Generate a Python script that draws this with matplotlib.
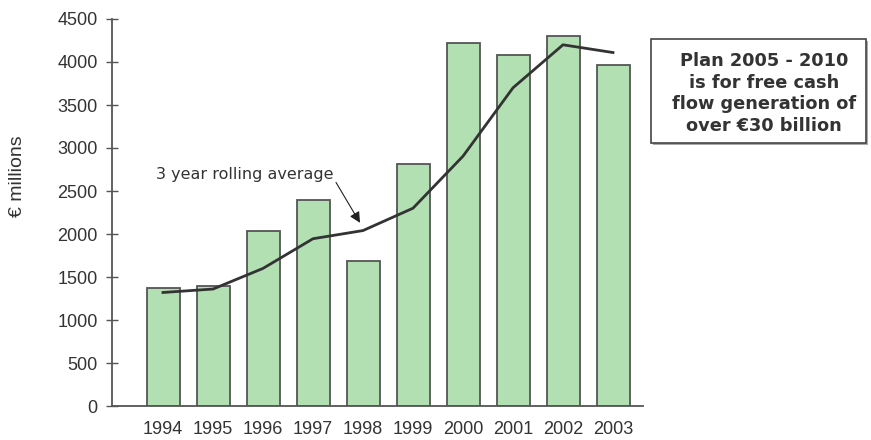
import numpy as np
import matplotlib
matplotlib.use("Agg")
import matplotlib.pyplot as plt
import matplotlib.patches as patches

years = ["1994", "1995", "1996", "1997", "1998", "1999", "2000", "2001", "2002", "2003"]
cash_flow = [1375, 1400, 2030, 2400, 1690, 2810, 4220, 4080, 4300, 3970]
rolling_avg = [1320, 1360, 1600, 1945, 2040, 2300, 2905, 3700, 4200, 4110]
y_ticks = [0, 500, 1000, 1500, 2000, 2500, 3000, 3500, 4000, 4500]

text_col = "#333333"
plt.rcParams["font.family"] = ["Liberation Sans", "DejaVu Sans"]

W, H = 871, 440
fig = plt.figure(figsize=(W / 100, H / 100), dpi=100)
ax = fig.add_axes([112 / W, 1 - 406 / H, (643 - 112) / W, (406 - 19) / H])

x = np.arange(len(years))
ax.bar(x, cash_flow, width=0.66, color="#b3e0b3", edgecolor="#555555", linewidth=1.3, zorder=2)
ax.plot(x, rolling_avg, color="#333333", linewidth=2, zorder=3)

ax.set_xlim(-1.02, 9.6)
ax.set_ylim(0, 4500)
ax.set_yticks(y_ticks)
ax.set_xticks(x)
ax.set_xticklabels(years)
ax.tick_params(axis="y", direction="inout", length=8.5, width=1, color="#555555",
               labelsize=13, labelcolor=text_col, pad=6)
ax.tick_params(axis="x", length=0, labelsize=13, labelcolor=text_col, pad=11)
for s in ["top", "right"]:
    ax.spines[s].set_visible(False)
for s in ["left", "bottom"]:
    ax.spines[s].set_color("#555555")
    ax.spines[s].set_linewidth(1.3)

fig.text(17 / W, 1 - 176 / H, "€ millions", rotation=90, ha="center", va="center",
         fontsize=14, color=text_col)

# rolling average label and arrow
ax.text(-0.14, 2600, "3 year rolling average", fontsize=11.5, color=text_col,
        family="DejaVu Sans", ha="left", va="bottom")
ax.annotate("", xy=(3.94, 2130), xytext=(3.46, 2600),
            arrowprops=dict(arrowstyle="-|>", color="#222222", lw=0.8,
                            mutation_scale=16, shrinkA=0, shrinkB=0))

# plan box
fig.patches.append(patches.Rectangle((653 / W, 1 - 145 / H), 215 / W, 104 / H,
                                     transform=fig.transFigure, facecolor="#aaaaaa",
                                     edgecolor="none", zorder=1))
fig.patches.append(patches.Rectangle((651 / W, 1 - 143 / H), 215 / W, 104 / H,
                                     transform=fig.transFigure, facecolor="white",
                                     edgecolor="#444444", linewidth=1.2, zorder=2))
fig.text(764 / W, 1 - 93.5 / H, "Plan 2005 - 2010\nis for free cash\nflow generation of\nover €30 billion",
         ha="center", va="center", fontsize=12.8, fontweight="bold", color=text_col,
         family="DejaVu Sans", linespacing=1.24, zorder=3)

fig.savefig("out.png", dpi=100)
